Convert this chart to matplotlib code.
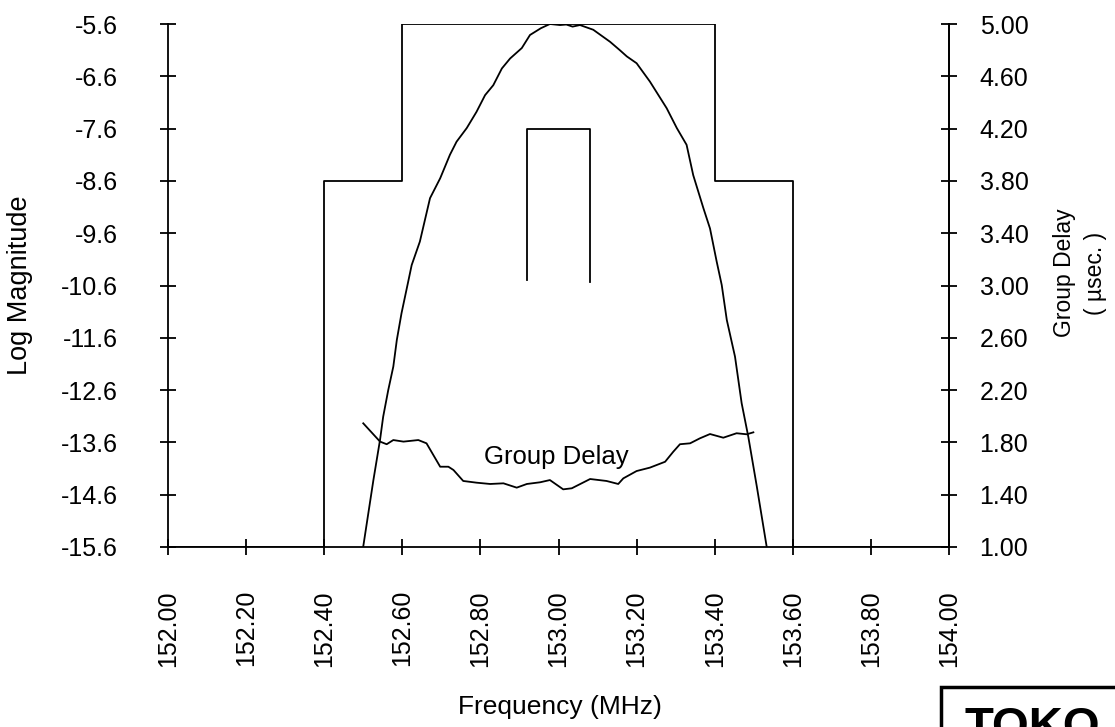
import numpy as np
import matplotlib.pyplot as plt
from matplotlib.patches import Rectangle

plt.rcParams['font.family'] = ['Liberation Sans', 'DejaVu Sans']
plt.rcParams['axes.unicode_minus'] = False

# spec mask (log magnitude)
mask_freq = [152.00, 152.40, 152.40, 152.60, 152.60, 153.40, 153.40, 153.60, 153.60, 154.00]
mask_db = [-15.6, -15.6, -8.6, -8.6, -5.6, -5.6, -8.6, -8.6, -15.6, -15.6]

# group delay spec
gd_spec_freq = [152.92, 152.92, 153.08, 153.08]
gd_spec_us = [3.04, 4.20, 4.20, 3.03]

# measured log magnitude
mag_freq = [152.500, 152.526, 152.543, 152.551, 152.564, 152.577, 152.586, 152.598,
            152.615, 152.624, 152.645, 152.671, 152.697, 152.722, 152.739, 152.765,
            152.790, 152.812, 152.833, 152.855, 152.876, 152.906, 152.927, 152.955,
            152.978, 153.004, 153.020, 153.036, 153.055, 153.089, 153.132, 153.157,
            153.175, 153.200, 153.234, 153.277, 153.303, 153.328, 153.345, 153.371,
            153.388, 153.405, 153.418, 153.431, 153.452, 153.469, 153.486, 153.508,
            153.533]
mag_db = [-15.59, -14.32, -13.55, -13.11, -12.60, -12.15, -11.64, -11.13,
          -10.53, -10.21, -9.76, -8.93, -8.55, -8.10, -7.85, -7.59,
          -7.28, -6.96, -6.77, -6.45, -6.26, -6.06, -5.81, -5.68,
          -5.60, -5.62, -5.61, -5.65, -5.62, -5.71, -5.94, -6.10,
          -6.22, -6.35, -6.70, -7.21, -7.59, -7.91, -8.49, -9.12,
          -9.51, -10.14, -10.59, -11.26, -11.96, -12.85, -13.49, -14.45,
          -15.59]

# measured group delay
gd_freq = [152.500, 152.543, 152.560, 152.577, 152.603, 152.641, 152.662, 152.697,
           152.718, 152.731, 152.756, 152.790, 152.825, 152.859, 152.893, 152.919,
           152.953, 152.978, 153.012, 153.034, 153.081, 153.123, 153.153, 153.166,
           153.200, 153.234, 153.273, 153.294, 153.311, 153.337, 153.362, 153.388,
           153.422, 153.456, 153.482, 153.499]
gd_us = [1.946, 1.806, 1.786, 1.818, 1.806, 1.818, 1.793, 1.614,
         1.614, 1.589, 1.505, 1.492, 1.482, 1.487, 1.454, 1.482,
         1.495, 1.512, 1.441, 1.449, 1.520, 1.505, 1.482, 1.525,
         1.581, 1.607, 1.652, 1.729, 1.786, 1.793, 1.831, 1.864,
         1.836, 1.870, 1.862, 1.877]

x_ticks = np.round(np.arange(152.0, 154.01, 0.2), 2)
y_ticks = np.round(np.arange(-15.6, -5.59, 1.0), 1)
gd_ticks = np.round(np.arange(1.0, 5.01, 0.4), 2)

lw = 1.3
fs = 18

fig = plt.figure(figsize=(11.15, 7.27), dpi=100)
ax = fig.add_axes([168 / 1115, 1 - 547 / 727, (949 - 168) / 1115, (547 - 24) / 727])
ax2 = ax.twinx()

ax.plot(mask_freq, mask_db, color='black', lw=lw)
ax.plot(mag_freq, mag_db, color='black', lw=lw)
ax2.plot(gd_spec_freq, gd_spec_us, color='black', lw=lw)
ax2.plot(gd_freq, gd_us, color='black', lw=lw)
ax2.text(152.995, 1.69, 'Group Delay', fontsize=18.5, ha='center', va='center')

ax.set_xlim(152.0, 154.0)
ax.set_ylim(-15.6, -5.6)
ax2.set_ylim(1.0, 5.0)

ax.set_xticks(x_ticks)
ax.set_xticklabels([f'{v:.2f}' for v in x_ticks], rotation=90)
ax.set_yticks(y_ticks)
ax.set_yticklabels([f'{v:.1f}' for v in y_ticks])
ax2.set_yticks(gd_ticks)
ax2.set_yticklabels([f'{v:.2f}' for v in gd_ticks])

for a in (ax, ax2):
    a.spines['top'].set_visible(False)
    for s in a.spines.values():
        s.set_linewidth(lw)
    a.patch.set_visible(False)
ax2.spines['left'].set_visible(False)
ax2.spines['bottom'].set_visible(False)

ax.tick_params(axis='x', direction='inout', length=12, width=lw, pad=25, labelsize=fs)
ax.tick_params(axis='y', direction='inout', length=12, width=lw, pad=30, labelsize=fs)
ax2.tick_params(axis='y', direction='inout', length=12, width=lw, pad=16, labelsize=fs)

fig.text(20 / 1115, 1 - 285 / 727, 'Log Magnitude', rotation=90, fontsize=19.5,
         ha='center', va='center')
fig.text(560 / 1115, 1 - 707 / 727, 'Frequency (MHz)', fontsize=19,
         ha='center', va='center')
fig.text(1080 / 1115, 1 - 273 / 727, 'Group Delay\n( \u00b5sec. )', rotation=90,
         fontsize=16.5, ha='center', va='center', multialignment='center',
         linespacing=1.45)

# logo box in the corner
fig.patches.append(Rectangle((941 / 1115, -0.1), 0.3, 1 - 687 / 727 + 0.1,
                             transform=fig.transFigure, fill=False, lw=2.5,
                             edgecolor='black'))
fig.text(965 / 1115, 1 - 706 / 727, 'TOKO', fontsize=34, fontweight='bold',
         ha='left', va='top')

fig.savefig('out.png', dpi=100)
